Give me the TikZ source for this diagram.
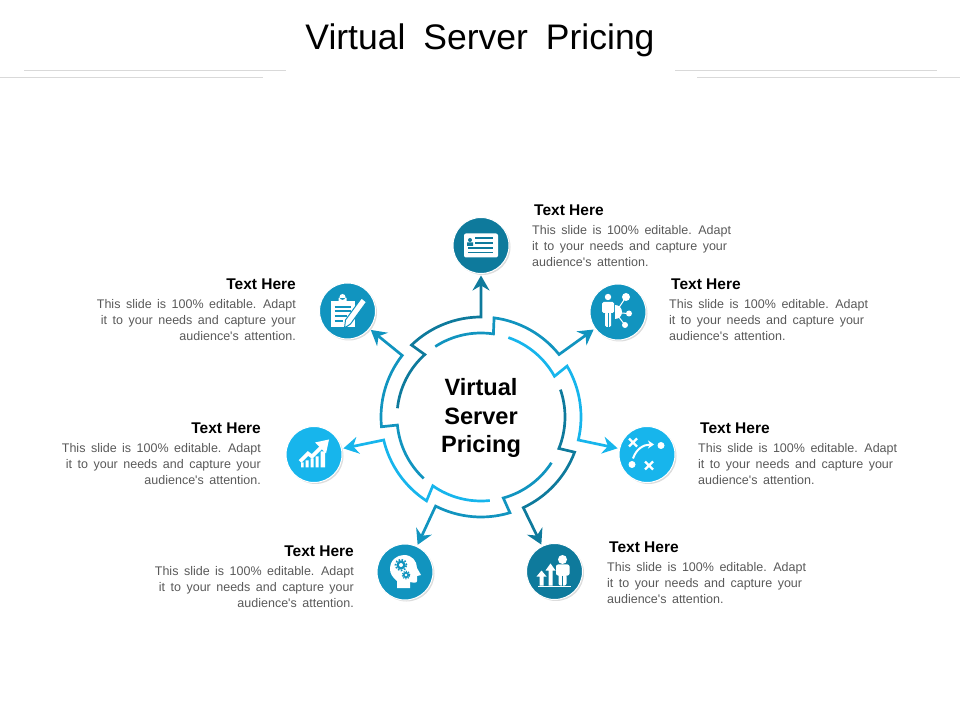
\documentclass[tikz,border=0pt]{standalone}
\usepackage{fontspec}
\setmainfont{Liberation Sans}[Ligatures=TeXOff]
\usetikzlibrary{positioning,arrows.meta,shadows}
\definecolor{darkteal}{HTML}{0E7A9C}
\definecolor{midteal}{HTML}{1194BF}
\definecolor{lightblue}{HTML}{17B5EC}
\definecolor{bodygray}{HTML}{595959}
\definecolor{rulegray}{HTML}{D9D9D9}
\newcommand{\slidetext}{This slide is 100\% editable. Adapt\\it to your needs and capture your\\audience's attention.}
\newcommand{\bodyfont}{\fontsize{12.5}{16}\selectfont\spaceskip 5.5pt\relax}
\tikzset{
  iconball/.style={circle,minimum size=56pt,inner sep=0pt,outer sep=2pt,draw=white,line width=1pt,
    drop shadow={shadow xshift=1.5pt,shadow yshift=-1.5pt,fill=black!45,opacity=.3}},
  ringline/.style={line width=2.7pt,miter limit=6,-{Stealth[length=15pt,width=17pt,inset=5pt]}},
  heading/.style={font=\fontsize{15.5}{18}\selectfont\bfseries,inner sep=0pt},
  bodyleft/.style={font=\bodyfont,text=bodygray,align=left,inner sep=0pt},
  bodyright/.style={font=\bodyfont,text=bodygray,align=right,inner sep=0pt},
  pics/cardicon/.style={code={
    \fill[white,rounded corners=2pt] (-17,-12) rectangle (17,12);
    \fill[darkteal] (-11,5.5) circle (2) (-14,-0.5) rectangle (-8,3);
    \draw[darkteal,line width=1.3pt] (-6,7.5) -- (12,7.5) (-6,2.5) -- (12,2.5) (-13,-2.5) -- (12,-2.5) (-13,-7) -- (12,-7);
  }},
  pics/clipicon/.style={code={
    \fill[white] (-17,-16) -- (-17,10) -- (7,10) -- (7,-16) -- cycle;
    \fill[white] (-9,9) rectangle (-1,13) (-5,14) circle (3);
    \draw[midteal,line width=1.3pt] (-13,4) -- (3,4) (-13,0) -- (3,0) (-13,-5) -- (-1,-5) (-13,-10) -- (-5,-10);
    \fill[white,draw=midteal,line width=1pt] (14,13) -- (19,9) -- (3,-13) -- (-3,-17) -- (-2,-9) -- cycle;
  }},
  pics/neticon/.style={code={
    \fill[white] (-10,15) circle (3.2);
    \fill[white,rounded corners=1.5pt] (-16,10) rectangle (-4,-1) (-13,0) rectangle (-7,-15);
    \draw[midteal,line width=.7pt] (-10,-1) -- (-10,-15);
    \fill[white] (-3,7) arc[start angle=90,end angle=-90,radius=7] -- cycle;
    \draw[white,line width=1pt] (0,3) -- (8,15) (2,-1) -- (11,-1.5) (0,-4) -- (7,-13);
    \fill[white] (8,15) circle (4) (11,-1.5) circle (3) (7,-13) circle (3);
  }},
  pics/playicon/.style={code={
    \draw[white,line width=2.2pt] (-18,16) -- (-10,8) (-18,8) -- (-10,16) (-2,-15) -- (6,-7) (-2,-7) -- (6,-15);
    \fill[white] (14,9) circle (3.5) (-15,-10) circle (3.5);
    \draw[white,line width=2pt,-{Stealth[length=6pt,width=8pt]}] (-14,-4) .. controls (-11,5) and (-4,10) .. (7,10);
  }},
  pics/charticon/.style={code={
    \fill[white] (-13,-13) rectangle (-10.5,-8) (-8.5,-13) rectangle (-5.5,-6) (-3.5,-13) rectangle (-0.5,-4)
      (1.5,-13) rectangle (4.5,-2) (6.5,-13) rectangle (11,3);
    \draw[white,line width=3.6pt] (-14,-7) -- (-6,1) -- (-2,-2) -- (8,8);
    \fill[white] (15,15) -- (1,12) -- (12,1) -- cycle;
  }},
  pics/headicon/.style={code={
    \fill[white] (-8,-16) -- (-8,-9) .. controls (-13,-5) and (-15,-1) .. (-15,3)
      .. controls (-15,12) and (-8,17) .. (-1,17) .. controls (7,17) and (12,11) .. (12,4)
      -- (16,-3) -- (12,-4) -- (12,-9) .. controls (12,-11) and (9,-11) .. (5,-10) -- (5,-16) -- cycle;
    \fill[midteal] (-4,7) circle (4.6) (1,-3) circle (3.2);
    \draw[midteal,line width=1.6pt,dash pattern=on 1.6pt off 1.6pt] (-4,7) circle (5.6);
    \draw[midteal,line width=1.2pt,dash pattern=on 1.2pt off 1.2pt] (1,-3) circle (3.8);
    \fill[white] (-4,7) circle (2) (1,-3) circle (1.4);
  }},
  pics/growicon/.style={code={
    \fill[white] (-17,-15.5) rectangle (16,-14.5);
    \fill[white] (-15,-14) rectangle (-11,-5) (-18,-5) -- (-13,1) -- (-8,-5) -- cycle;
    \fill[white] (-6,-14) rectangle (-2,1) (-9,1) -- (-4,8) -- (1,1) -- cycle;
    \fill[white] (8,12) circle (4.5);
    \fill[white,rounded corners=2pt] (1.5,7) rectangle (15,-4) (4,-3) rectangle (12,-14);
    \draw[darkteal,line width=.7pt] (8,-4) -- (8,-14);
  }}
}
\begin{document}
\begin{tikzpicture}[x=1pt,y=1pt]
  \useasboundingbox (0,0) rectangle (960,720);
  \node[font=\fontsize{35.5}{40}\selectfont] (title) at (480,680) {Virtual\hspace{18pt}Server\hspace{18pt}Pricing};
  \draw[rulegray] (24,649.5) -- (286,649.5);
  \draw[rulegray] (0,643) -- (263,643);
  \draw[rulegray] (675,649.5) -- (937,649.5);
  \draw[rulegray] (697,643) -- (960,643);

  \coordinate (ringc) at (481,303);
  \node[font=\fontsize{23.6}{28.5}\selectfont\bfseries,align=center,inner sep=0pt] (centre) at (481,302) {Virtual\\Server\\Pricing};

  \node[iconball,fill=darkteal] (card) at (481,474.5) {};
  \node[iconball,fill=midteal] (clip) at (347.5,409) {};
  \node[iconball,fill=midteal] (net) at (618,408) {};
  \node[iconball,fill=lightblue] (play) at (647,265.5) {};
  \node[iconball,fill=lightblue] (chart) at (314,265.5) {};
  \node[iconball,fill=midteal] (head) at (405,148) {};
  \node[iconball,fill=darkteal] (grow) at (554.5,148.5) {};

  \pic at (card) {cardicon};
  \pic at (clip) {clipicon};
  \pic at (net) {neticon};
  \pic at (play) {playicon};
  \pic at (chart) {charticon};
  \pic at (head) {headicon};
  \pic at (grow) {growicon};

  \begin{scope}[shift={(ringc)}]
    \draw[ringline,darkteal] (174:84) arc[start angle=174,end angle=132,radius=84] -- (134:100) arc[start angle=134,end angle=90,radius=100] -- (card);
    \draw[ringline,midteal] (123:84) arc[start angle=123,end angle=81.5,radius=84] -- (82.5:100) arc[start angle=82.5,end angle=38.7,radius=100] -- (net);
    \draw[ringline,lightblue] (71:84) arc[start angle=71,end angle=29,radius=84] -- (30.6:100) arc[start angle=30.6,end angle=-13.3,radius=100] -- (play);
    \draw[ringline,darkteal] (19:84) arc[start angle=19,end angle=-22,radius=84] -- (-20.6:100) arc[start angle=-20.6,end angle=-65,radius=100] -- (grow);
    \draw[ringline,midteal] (-33:84) arc[start angle=-33,end angle=-74.6,radius=84] -- (-73.2:100) arc[start angle=-73.2,end angle=-117,radius=100] -- (head);
    \draw[ringline,lightblue] (-84:84) arc[start angle=-84,end angle=-125,radius=84] -- (-123:100) arc[start angle=-123,end angle=-166.7,radius=100] -- (chart);
    \draw[ringline,midteal] (-133:84) arc[start angle=-133,end angle=-174.5,radius=84] -- (-174.4:100) arc[start angle=-174.4,end angle=-218,radius=100] -- (clip);
  \end{scope}

  \node[heading,anchor=west] (headA) at (534,509.5) {Text Here};
  \node[bodyleft,below=9pt of headA.south west,anchor=north west,xshift=-2pt] (bodyA) {\slidetext};
  \node[heading,anchor=west] (headB) at (671,435.5) {Text Here};
  \node[bodyleft,below=9pt of headB.south west,anchor=north west,xshift=-2pt] (bodyB) {\slidetext};
  \node[heading,anchor=west] (headC) at (700,291.5) {Text Here};
  \node[bodyleft,below=9pt of headC.south west,anchor=north west,xshift=-2pt] (bodyC) {\slidetext};
  \node[heading,anchor=west] (headD) at (609,172.5) {Text Here};
  \node[bodyleft,below=9pt of headD.south west,anchor=north west,xshift=-2pt] (bodyD) {\slidetext};
  \node[heading,anchor=east] (headE) at (354,168.5) {Text Here};
  \node[bodyright,below=9pt of headE.south east,anchor=north east] (bodyE) {\slidetext};
  \node[heading,anchor=east] (headF) at (261,291.5) {Text Here};
  \node[bodyright,below=9pt of headF.south east,anchor=north east] (bodyF) {\slidetext};
  \node[heading,anchor=east] (headG) at (296,435.5) {Text Here};
  \node[bodyright,below=9pt of headG.south east,anchor=north east] (bodyG) {\slidetext};
\end{tikzpicture}
\end{document}
